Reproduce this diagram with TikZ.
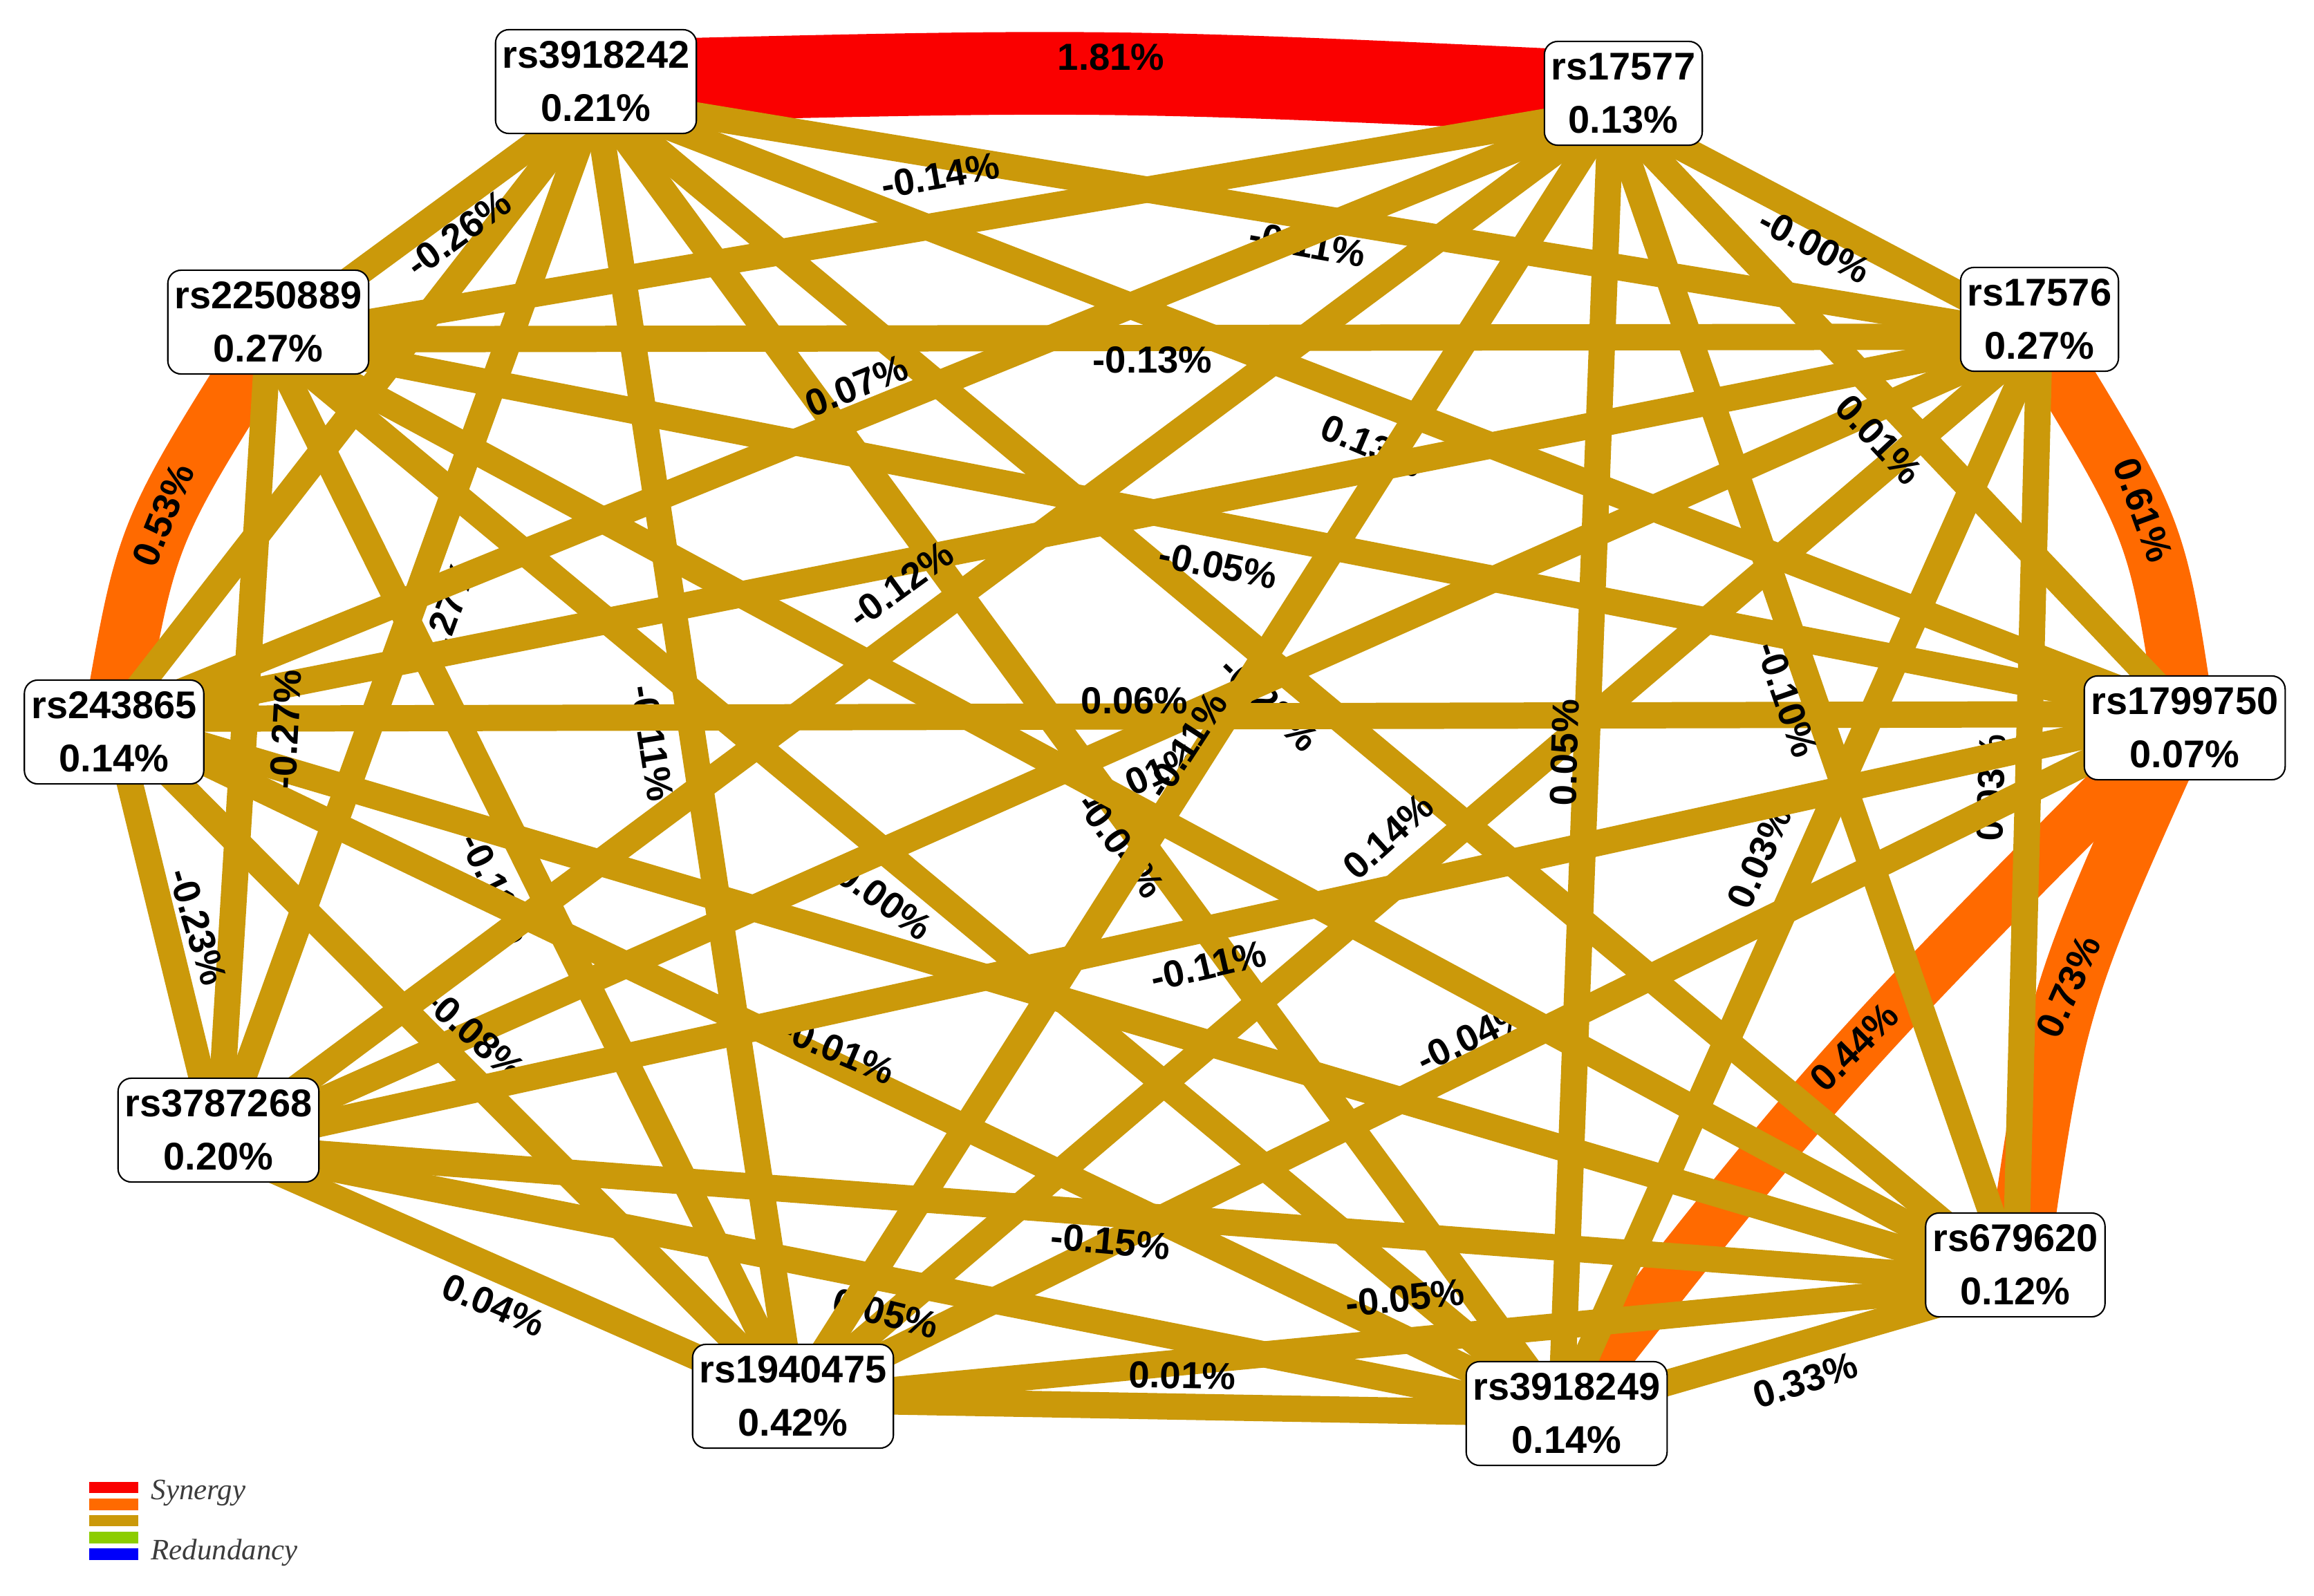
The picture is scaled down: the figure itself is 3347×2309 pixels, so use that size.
\documentclass[tikz,border=0pt]{standalone}
\usepackage{fontspec}
\setmainfont{Liberation Sans}
\newfontfamily\legserif{Liberation Serif}
\definecolor{goldc}{RGB}{203,153,10}
\definecolor{orangec}{RGB}{255,106,0}
\definecolor{redc}{RGB}{250,0,0}
\definecolor{greenc}{RGB}{140,205,0}
\definecolor{bluec}{RGB}{0,0,250}
\definecolor{legtext}{RGB}{60,60,60}
\pgfdeclarelayer{bg}
\pgfdeclarelayer{edges}
\pgfsetlayers{bg,edges,main}
\newcommand\nodefont{\fontsize{15.9pt}{21.9pt}\selectfont\bfseries}
\newcommand\lblfont{\fontsize{15.5pt}{18pt}\selectfont\bfseries}
\newcommand\legfont{\legserif\itshape\fontsize{12.2pt}{14pt}\selectfont}
\tikzset{
  snp/.style={draw=black, line width=0.6pt, fill=white, rounded corners=5.5pt, align=center, font=\nodefont, inner xsep=2.85pt, inner ysep=0pt, minimum height=42.7pt},
  pt/.style={inner sep=0pt, outer sep=0pt, minimum size=0pt},
  goldE/.style={draw=goldc, line width=10.8pt},
  orangeE/.style={draw=orangec},
  redE/.style={draw=redc, line width=34pt},
  elbl/.style={font=\lblfont, inner sep=0pt, text=black},
  leg/.style={font=\legfont, text=legtext, anchor=west, inner sep=0pt},
}
\begin{document}
\begin{tikzpicture}[x=0.01cm, y=-0.01cm]
\useasboundingbox (0,0) rectangle (3347,2309);
\begin{pgfonlayer}{bg}
\fill[white] (0,0) rectangle (3347,2309);
\end{pgfonlayer}

% edge anchor points
\node[pt] (a) at (862,143) {};
\node[pt] (b) at (2330,160) {};
\node[pt] (c) at (388,491) {};
\node[pt] (d) at (2950,487) {};
\node[pt] (e) at (165,1040) {};
\node[pt] (f) at (3160,1033) {};
\node[pt] (g) at (316,1658) {};
\node[pt] (h) at (2915,1855) {};
\node[pt] (i) at (1147,2025) {};
\node[pt] (j) at (2258,2045) {};

% SNP boxes
\node[snp] (A) at (862,118) {rs3918242\\0.21\%};
\node[snp] (B) at (2348,135) {rs17577\\0.13\%};
\node[snp] (C) at (388,466) {rs2250889\\0.27\%};
\node[snp] (D) at (2950,462) {rs17576\\0.27\%};
\node[snp] (E) at (165,1059) {rs243865\\0.14\%};
\node[snp] (F) at (3160,1053) {rs1799750\\0.07\%};
\node[snp] (G) at (316,1635) {rs3787268\\0.20\%};
\node[snp] (H) at (2915,1830) {rs679620\\0.12\%};
\node[snp] (I) at (1147,2020) {rs1940475\\0.42\%};
\node[snp] (J) at (2266,2045) {rs3918249\\0.14\%};

\begin{pgfonlayer}{edges}
% synergy edges
\draw[redE] (A.center) .. controls (1605,100) .. (B.center);
\draw[orangeE, line width=25pt] (c) .. controls (212,770) .. (e);
\draw[orangeE, line width=24pt] (d) .. controls (3120,765) .. (f);
\draw[orangeE, line width=25.5pt] (f) .. controls (2972,1449) .. (h);
\draw[orangeE, line width=21pt] (f) .. controls (2650,1545) .. (j);
% edges whose labels are partly hidden
\draw[goldE] (a) -- (d); \node[elbl, rotate=-10] (pAD) at (1891,354) {-0.11\%};
\draw[goldE] (a) -- (f); \node[elbl, rotate=-23] (pAF) at (1985,645) {0.13\%};
\draw[goldE] (a) -- (g); \node[elbl, rotate=70] (pAG) at (644,895) {-0.27\%};
\draw[goldE] (a) -- (h); \node[elbl, rotate=-44] (pAH) at (1836,1018) {-0.28\%};
\draw[goldE] (a) -- (i); \node[elbl, rotate=-81] (pAI) at (943,1075) {-0.11\%};
\draw[goldE] (a) -- (j); \node[elbl, rotate=-54] (pAJ) at (1621,1223) {-0.04\%};
\draw[goldE] (c) -- (i); \node[elbl, rotate=-64] (pCI) at (718,1285) {-0.11\%};
\draw[goldE] (c) -- (j); \node[elbl, rotate=-36] (pCJ) at (1272,1297) {-0.00\%};
\draw[goldE] (d) -- (g); \node[elbl, rotate=24] (pDG) at (1652,1126) {-0.01\%};
\draw[goldE] (d) -- (h); \node[elbl, rotate=88] (pDH) at (2880,1140) {0.03\%};
\draw[goldE] (d) -- (i); \node[elbl, rotate=42] (pDI) at (2008,1210) {0.14\%};
\draw[goldE] (d) -- (j); \node[elbl, rotate=66] (pDJ) at (2545,1240) {0.03\%};
\draw[goldE] (e) -- (i); \node[elbl, rotate=-42] (pEI) at (687,1497) {-0.08\%};
\draw[goldE] (e) -- (j); \node[elbl, rotate=-23] (pEJ) at (1212,1519) {-0.01\%};
\draw[goldE] (f) -- (i); \node[elbl, rotate=26] (pFI) at (2130,1499) {-0.04\%};
\draw[goldE] (g) -- (j); \node[elbl, rotate=-14] (pGJ) at (1281,1900) {0.05\%};
\draw[goldE] (h) -- (i); \node[elbl, rotate=6] (pHI) at (2032,1878) {-0.05\%};
% remaining edges
\draw[goldE] (a) -- (c);
\draw[goldE] (a) -- (e);
\draw[goldE] (b) -- (c);
\draw[goldE] (b) -- (d);
\draw[goldE] (b) -- (e);
\draw[goldE] (b) -- (f);
\draw[goldE] (b) -- (g);
\draw[goldE] (b) -- (h);
\draw[goldE] (b) -- (i);
\draw[goldE] (b) -- (j);
\draw[goldE] (c) -- (d);
\draw[goldE] (c) -- (f);
\draw[goldE] (c) -- (g);
\draw[goldE] (c) -- (h);
\draw[goldE] (d) -- (e);
\draw[goldE] (e) -- (f);
\draw[goldE] (e) -- (g);
\draw[goldE] (e) -- (h);
\draw[goldE] (f) -- (g);
\draw[goldE] (g) -- (h);
\draw[goldE] (g) -- (i);
\draw[goldE] (h) -- (j);
\draw[goldE] (i) -- (j);
\end{pgfonlayer}

% fully visible edge labels
\node[elbl] (lAB) at (1607,83) {1.81\%};
\node[elbl, rotate=36] (lAC) at (663,338) {-0.26\%};
\node[elbl, rotate=10] (lBC) at (1360,254) {-0.14\%};
\node[elbl, rotate=-28] (lBD) at (2625,355) {-0.00\%};
\node[elbl] (lCD) at (1667,521) {-0.13\%};
\node[elbl, rotate=22] (lBE) at (1239,558) {0.07\%};
\node[elbl, rotate=-47] (lBF) at (2718,636) {0.01\%};
\node[elbl, rotate=-11] (lCF) at (1762,818) {-0.05\%};
\node[elbl, rotate=36] (lBG) at (1303,846) {-0.12\%};
\node[elbl, rotate=-70] (lDF) at (3100,738) {0.61\%};
\node[elbl, rotate=68] (lCE) at (236,745) {0.53\%};
\node[elbl, rotate=87] (lCG) at (413,1055) {-0.27\%};
\node[elbl, rotate=-71] (lBH) at (2585,1012) {-0.10\%};
\node[elbl, rotate=88] (lBJ) at (2263,1089) {0.05\%};
\node[elbl] (lEF) at (1641,1014) {0.06\%};
\node[elbl, rotate=57] (lBI) at (1716,1078) {-0.11\%};
\node[elbl, rotate=-73] (lEG) at (286,1341) {-0.23\%};
\node[elbl, rotate=13] (lFG) at (1748,1397) {-0.11\%};
\node[elbl, rotate=66] (lFH) at (2992,1427) {0.73\%};
\node[elbl, rotate=45] (lFJ) at (2682,1515) {0.44\%};
\node[elbl, rotate=-5] (lGH) at (1606,1796) {-0.15\%};
\node[elbl, rotate=-23] (lGI) at (714,1888) {0.04\%};
\node[elbl, rotate=18] (lHJ) at (2611,1997) {0.33\%};
\node[elbl, rotate=-1] (lIJ) at (1710,1990) {0.01\%};

% legend
\fill[redc] (129,2144) rectangle (200,2160);
\fill[orangec] (129,2168) rectangle (200,2185);
\fill[goldc] (129,2192) rectangle (200,2208);
\fill[greenc] (129,2216) rectangle (200,2233);
\fill[bluec] (129,2240) rectangle (200,2257);
\node[leg] (legsyn) at (218,2160) {Synergy};
\node[leg] (legred) at (218,2246) {Redundancy};
\end{tikzpicture}
\end{document}
